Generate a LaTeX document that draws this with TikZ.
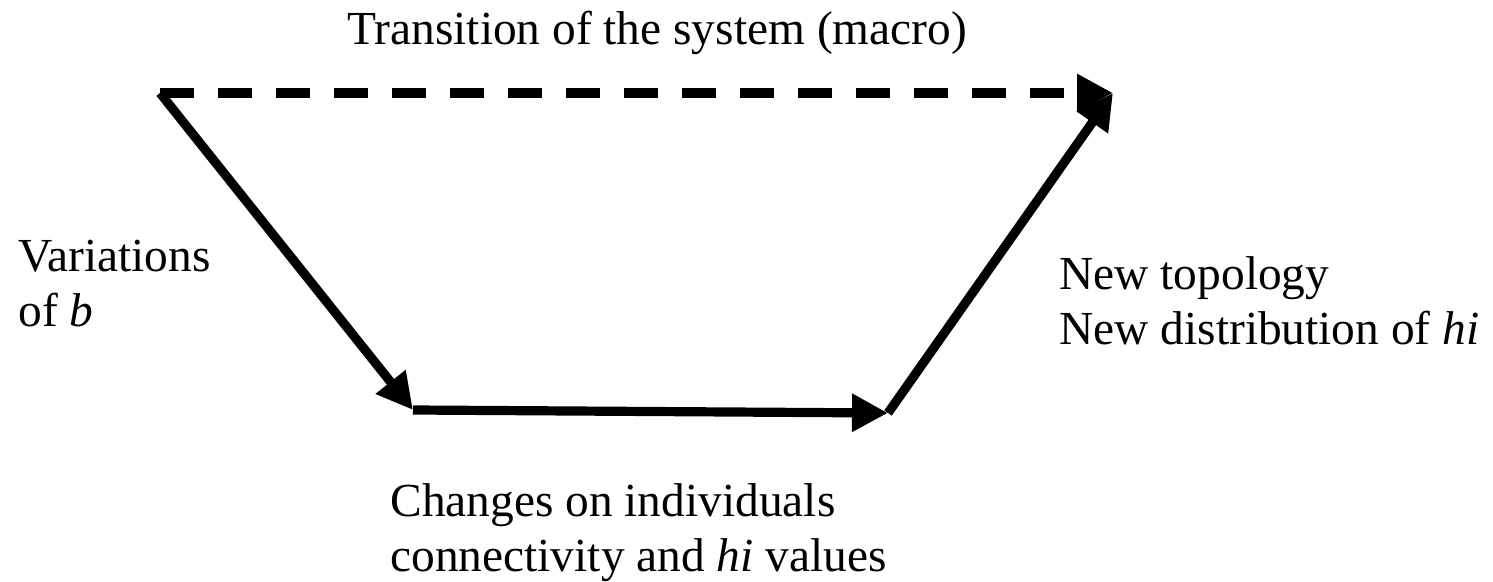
\documentclass[tikz,border=0pt]{standalone}
\usepackage{fontspec}
\setmainfont{Liberation Serif}
\usetikzlibrary{arrows.meta}

\begin{document}
\begin{tikzpicture}[
  x=0.5pt,y=-0.5pt,
  lbl/.style={inner sep=0pt,anchor=base west,align=left,font=\fontsize{23.7}{27.5}\selectfont},
  arr/.style={line width=4.6pt,-{Triangle[length=18pt,width=18pt]}},
  macro/.style={arr,dash pattern=on 17pt off 12pt}
]
\useasboundingbox (0,0) rectangle (1493,582);
\coordinate (start) at (160,93);
\coordinate (micro) at (413,410);
\coordinate (local) at (888,413);
\coordinate (final) at (1113,93);
\draw[arr] (start) -- (micro);
\draw[arr] (micro) -- (local);
\draw[arr] (local) -- (final);
\draw[macro] (start) -- (final);
% base anchor of a two-line label sits on its last line
\node[lbl] (trans) at (347,45) {Transition of the system (macro)};
\node[lbl] (var) at (18,327) {Variations\\of \textit{b}};
\node[lbl] (topo) at (1059,345) {New topology\\New distribution of \textit{hi}};
\node[lbl] (chg) at (390,571) {Changes on individuals\\connectivity and \textit{hi} values};
\end{tikzpicture}
\end{document}
